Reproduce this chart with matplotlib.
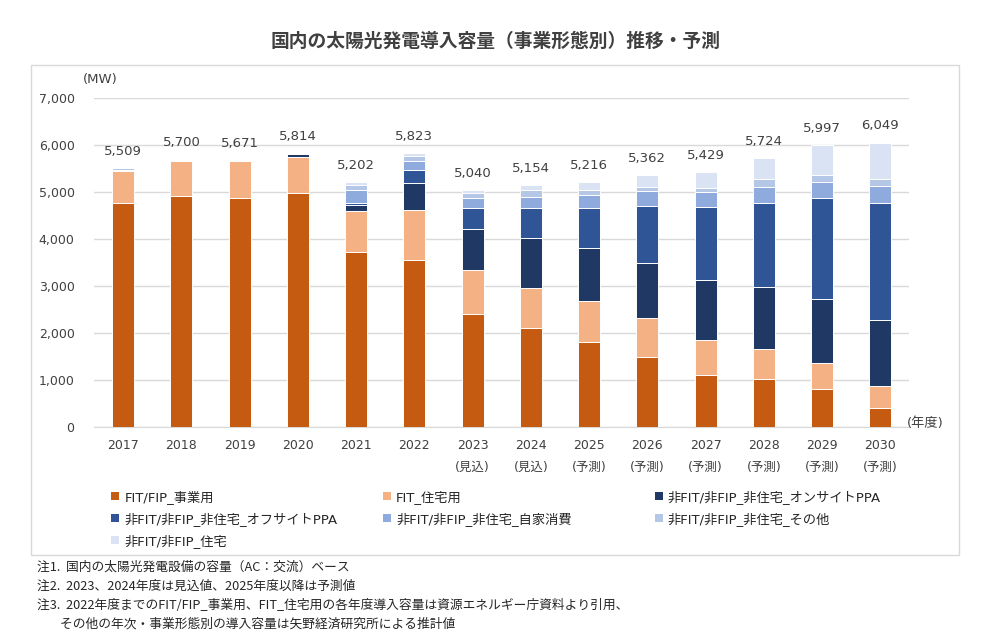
import numpy as np
import matplotlib
matplotlib.use("Agg")
import matplotlib.pyplot as plt
from matplotlib.patches import Rectangle, Patch

plt.rcParams['font.family'] = ['DejaVu Sans', 'Noto Sans CJK JP']

years = ['2017', '2018', '2019', '2020', '2021', '2022', '2023', '2024',
         '2025', '2026', '2027', '2028', '2029', '2030']
notes_x = ['', '', '', '', '', '', '(見込)', '(見込)', '(予測)', '(予測)',
           '(予測)', '(予測)', '(予測)', '(予測)']
totals = [5509, 5700, 5671, 5814, 5202, 5823, 5040, 5154, 5216, 5362,
          5429, 5724, 5997, 6049]

# MW per segment, bottom to top
fit_biz = [4772, 4915, 4879, 4986, 3730, 3546, 2411, 2113, 1802, 1496, 1106, 1014, 801, 397]
fit_home = [675, 738, 781, 766, 860, 1064, 922, 844, 872, 816, 745, 653, 554, 475]
onsite_ppa = [0, 0, 0, 57, 128, 589, 873, 1057, 1135, 1177, 1277, 1305, 1361, 1405]
offsite_ppa = [0, 0, 0, 0, 55, 262, 461, 653, 858, 1213, 1546, 1787, 2149, 2482]
self_use = [25, 20, 0, 0, 271, 192, 198, 220, 262, 312, 319, 354, 341, 369]
other = [37, 27, 11, 5, 106, 119, 107, 156, 114, 85, 92, 157, 149, 149]
nonfit_home = [0, 0, 0, 0, 52, 51, 68, 111, 173, 263, 344, 454, 642, 772]

series = [fit_biz, fit_home, onsite_ppa, offsite_ppa, self_use, other, nonfit_home]
labels = ['FIT/FIP_事業用', 'FIT_住宅用', '非FIT/非FIP_非住宅_オンサイトPPA',
          '非FIT/非FIP_非住宅_オフサイトPPA', '非FIT/非FIP_非住宅_自家消費',
          '非FIT/非FIP_非住宅_その他', '非FIT/非FIP_住宅']
colors = ['#c55a11', '#f4b183', '#203864', '#2f5597', '#8faadc', '#b4c7e7', '#dae3f3']

fig = plt.figure(figsize=(9.92, 6.4), dpi=100)
fig.patches.append(Rectangle((0.031, 0.133), 0.936, 0.765, transform=fig.transFigure,
                             facecolor='none', edgecolor='#d9d9d9', linewidth=1))
fig.text(0.5, 0.936, '国内の太陽光発電導入容量（事業形態別）推移・予測', ha='center', va='center',
         fontsize=13.5, fontweight='bold', color='#404040', family=['Noto Sans CJK JP'])

ax = fig.add_axes([0.0948, 0.333, 0.822, 0.514])
x = np.arange(len(years))
bottom = np.zeros(len(years))
for vals, lab, col in zip(series, labels, colors):
    v = np.array(vals, dtype=float)
    ax.bar(x, v, 0.38, bottom=bottom, color=col, edgecolor='white', linewidth=0.7, label=lab, zorder=3)
    bottom += v

for xi, t in zip(x, totals):
    ax.annotate(f'{t:,}', (xi, t), xytext=(0, 12), textcoords='offset points',
                ha='center', va='center', fontsize=9.5, color='#404040')

ax.set_xlim(-0.5, 13.5)
ax.set_ylim(0, 7000)
ax.set_yticks(np.arange(0, 7001, 1000))
ax.set_yticklabels([f'{v:,}' for v in range(0, 7001, 1000)])
ax.grid(axis='y', color='#d9d9d9', linewidth=1, zorder=0)
ax.set_xticks(x)
ax.set_xticklabels([y + ('\n' + n if n else '') for y, n in zip(years, notes_x)])
for s in ['top', 'right', 'left']:
    ax.spines[s].set_visible(False)
ax.spines['bottom'].set_color('#d9d9d9')
ax.tick_params(axis='both', length=0, labelsize=9, colors='#404040')
ax.tick_params(axis='x', pad=9)
ax.tick_params(axis='y', pad=14)
for lbl in ax.get_xticklabels():
    lbl.set_linespacing(1.85)
    lbl.set_va('top')

fig.text(0.101, 0.875, '(MW)', ha='center', va='center', fontsize=9.5, color='#404040')
fig.text(0.933, 0.338, '(年度)', ha='center', va='center', fontsize=9.5, color='#404040')

# legend in three columns
handles = [Patch(facecolor=c, edgecolor='none') for c in colors]
cols = [[0, 3, 6], [1, 4], [2, 5]]
col_x = [0.112, 0.386, 0.660]
for cx, idx in zip(col_x, cols):
    leg = fig.legend([handles[i] for i in idx], [labels[i] for i in idx], loc='upper left',
                     bbox_to_anchor=(cx, 0.235), frameon=False, fontsize=9.5,
                     handlelength=0.6, handleheight=0.6, handletextpad=0.4, labelspacing=0.62,
                     borderaxespad=0, borderpad=0)
    for tx in leg.get_texts():
        tx.set_color('#262626')

notes = ['注1.  国内の太陽光発電設備の容量（AC：交流）ベース',
         '注2.  2023、2024年度は見込値、2025年度以降は予測値',
         '注3.  2022年度までのFIT/FIP_事業用、FIT_住宅用の各年度導入容量は資源エネルギー庁資料より引用、',
         '        その他の年次・事業形態別の導入容量は矢野経済研究所による推計値']
for i, n in enumerate(notes):
    fig.text(0.037, 0.114 - i * 0.0298, n, ha='left', va='center', fontsize=9.2,
             color='#262626', family=['Noto Sans CJK JP', 'DejaVu Sans'])

fig.savefig('out.png', dpi=100)
